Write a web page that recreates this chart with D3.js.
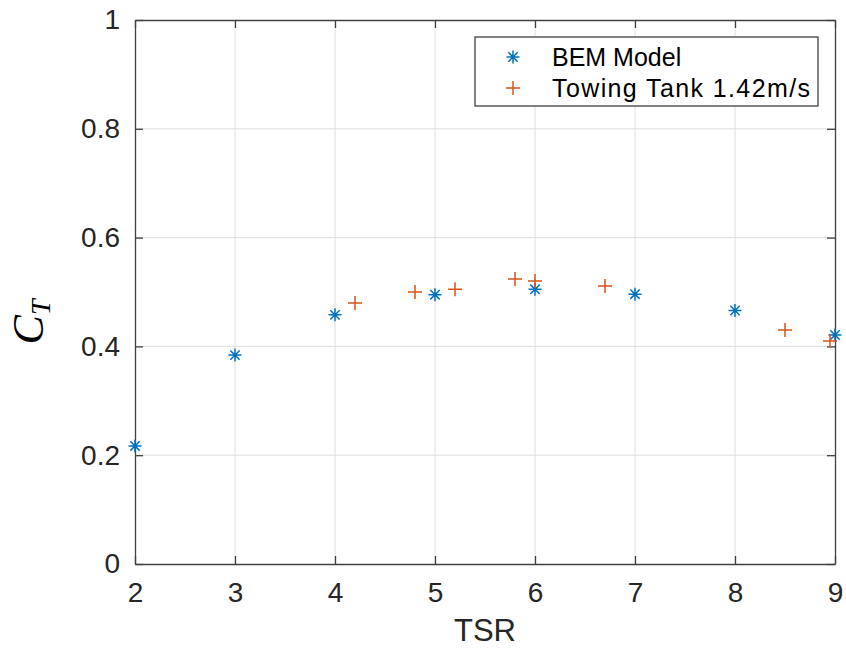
<!DOCTYPE html>
<html><head><meta charset="utf-8">
<script src="https://cdn.jsdelivr.net/npm/d3@7"></script>
<style>body{margin:0;background:#fff}svg{display:block}</style>
</head><body>
<svg id="c" width="846" height="653"></svg>
<script>
const bemX = [2, 3, 4, 5, 6, 7, 8, 9];
const bemY = [0.217, 0.384, 0.458, 0.495, 0.505, 0.496, 0.466, 0.421];
const tankX = [4.2, 4.8, 5.2, 5.8, 6.0, 6.7, 8.5, 8.95];
const tankY = [0.480, 0.500, 0.505, 0.524, 0.520, 0.511, 0.430, 0.410];
const xTicks = [2, 3, 4, 5, 6, 7, 8, 9];
const yTicks = [0, 0.2, 0.4, 0.6, 0.8, 1];
const legendLabels = ["BEM Model", "Towing Tank 1.42m/s"];

const svg = d3.select("#c");
const L = 135, R = 835, T = 20, B = 564;
const x = d3.scaleLinear().domain([2, 9]).range([L, R]);
const y = d3.scaleLinear().domain([0, 1]).range([B, T]);
const axC = "#404040", txtC = "#262626";
const tickFont = "Liberation Sans, Arial, sans-serif";

// grid
svg.append("g").selectAll("line").data(xTicks.slice(1, -1)).join("line")
  .attr("x1", d => x(d)).attr("x2", d => x(d)).attr("y1", T).attr("y2", B)
  .attr("stroke", "#dedede").attr("stroke-width", 1);
svg.append("g").selectAll("line").data(yTicks.slice(1, -1)).join("line")
  .attr("y1", d => y(d)).attr("y2", d => y(d)).attr("x1", L).attr("x2", R)
  .attr("stroke", "#dedede").attr("stroke-width", 1);

// axes with inner ticks on all sides
function styleAxis(g) {
  g.select(".domain").attr("stroke", axC).attr("stroke-width", 1.3);
  g.selectAll(".tick line").attr("stroke", axC).attr("stroke-width", 1.3);
  g.selectAll(".tick text").attr("fill", txtC).attr("font-family", tickFont).attr("font-size", 28);
}
const xb = svg.append("g").attr("transform", `translate(0,${B})`)
  .call(d3.axisBottom(x).tickValues(xTicks).tickSizeInner(-8).tickSizeOuter(0).tickPadding(18).tickFormat(d3.format("d")));
styleAxis(xb);
const xt = svg.append("g").attr("transform", `translate(0,${T})`)
  .call(d3.axisTop(x).tickValues(xTicks).tickSizeInner(-8).tickSizeOuter(0).tickFormat(""));
styleAxis(xt);
const yl = svg.append("g").attr("transform", `translate(${L},0)`)
  .call(d3.axisLeft(y).tickValues(yTicks).tickSizeInner(-8).tickSizeOuter(0).tickPadding(15).tickFormat(d => d === 0 || d === 1 ? d3.format("d")(d) : d3.format(".1f")(d)));
styleAxis(yl);
const yr = svg.append("g").attr("transform", `translate(${R},0)`)
  .call(d3.axisRight(y).tickValues(yTicks).tickSizeInner(-8).tickSizeOuter(0).tickFormat(""));
styleAxis(yr);

// labels
svg.append("text").attr("x", (L + R) / 2).attr("y", 641).attr("text-anchor", "middle")
  .attr("font-family", tickFont).attr("font-size", 31).attr("fill", txtC).text("TSR");
const yLab = svg.append("text").attr("transform", "translate(43,322) rotate(-90)")
  .attr("text-anchor", "middle").attr("font-family", "Liberation Serif, Times New Roman, serif")
  .attr("font-style", "italic").attr("fill", "#000");
yLab.append("tspan").attr("font-size", 44).text("C");
yLab.append("tspan").attr("font-size", 28).attr("dy", 7).text("T");

// markers
const blue = "#0072BD", orange = "#D95319";
function asterisk(g, cx, cy, r) {
  const p = d3.path();
  p.moveTo(cx - r, cy); p.lineTo(cx + r, cy);
  p.moveTo(cx, cy - r); p.lineTo(cx, cy + r);
  const d = r * 0.72;
  p.moveTo(cx - d, cy - d); p.lineTo(cx + d, cy + d);
  p.moveTo(cx - d, cy + d); p.lineTo(cx + d, cy - d);
  g.append("path").attr("d", p.toString()).attr("stroke", blue).attr("stroke-width", 1.5).attr("fill", "none");
}
function plus(g, cx, cy, r) {
  const p = d3.path();
  p.moveTo(cx - r, cy); p.lineTo(cx + r, cy);
  p.moveTo(cx, cy - r); p.lineTo(cx, cy + r);
  g.append("path").attr("d", p.toString()).attr("stroke", orange).attr("stroke-width", 1.5).attr("fill", "none");
}
const mk = svg.append("g");
bemX.forEach((v, i) => asterisk(mk, x(v), y(bemY[i]), 6.5));
tankX.forEach((v, i) => plus(mk, x(v), y(tankY[i]), 7));

// legend
const lg = svg.append("g");
lg.append("rect").attr("x", 475).attr("y", 37).attr("width", 343).attr("height", 69)
  .attr("fill", "#fff").attr("stroke", axC).attr("stroke-width", 1.3);
asterisk(lg, 513, 57, 6.5);
plus(lg, 513, 88, 7);
lg.append("text").attr("x", 552).attr("y", 66).attr("font-family", tickFont).attr("font-size", 25)
  .attr("fill", "#000").text(legendLabels[0]);
lg.append("text").attr("x", 552).attr("y", 97).attr("font-family", tickFont).attr("font-size", 25)
  .attr("fill", "#000").attr("textLength", 258).attr("lengthAdjust", "spacing").text(legendLabels[1]);
</script>
</body></html>
